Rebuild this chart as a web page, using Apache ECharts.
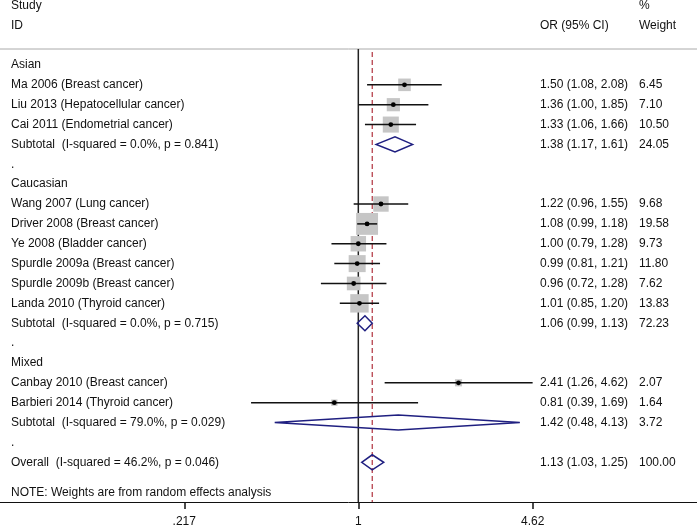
<!DOCTYPE html>
<html>
<head>
<meta charset="utf-8">
<script src="https://cdn.jsdelivr.net/npm/echarts@6/dist/echarts.min.js"></script>
<style>
  html, body { margin: 0; padding: 0; background: #fff; }
  #chart { width: 697px; height: 528px; }
</style>
</head>
<body>
<div id="chart"></div>
<script>
// rows of the forest plot, top to bottom
const rowLabels = [
  'Asian',
  'Ma 2006 (Breast cancer)',
  'Liu 2013 (Hepatocellular cancer)',
  'Cai 2011 (Endometrial cancer)',
  'Subtotal  (I-squared = 0.0%, p = 0.841)',
  '.',
  'Caucasian',
  'Wang 2007 (Lung cancer)',
  'Driver 2008 (Breast cancer)',
  'Ye 2008 (Bladder cancer)',
  'Spurdle 2009a (Breast cancer)',
  'Spurdle 2009b (Breast cancer)',
  'Landa 2010 (Thyroid cancer)',
  'Subtotal  (I-squared = 0.0%, p = 0.715)',
  '.',
  'Mixed',
  'Canbay 2010 (Breast cancer)',
  'Barbieri 2014 (Thyroid cancer)',
  'Subtotal  (I-squared = 79.0%, p = 0.029)',
  '.',
  'Overall  (I-squared = 46.2%, p = 0.046)'
];
const rowKinds = [
  'group', 'study', 'study', 'study', 'pooled', 'gap',
  'group', 'study', 'study', 'study', 'study', 'study', 'study', 'pooled', 'gap',
  'group', 'study', 'study', 'pooled', 'gap',
  'pooled'
];
const orValues = [null, 1.50, 1.36, 1.33, 1.38, null, null, 1.22, 1.08, 1.00, 0.99, 0.96, 1.01, 1.06, null, null, 2.41, 0.81, 1.42, null, 1.13];
const ciLower  = [null, 1.08, 1.00, 1.06, 1.17, null, null, 0.96, 0.99, 0.79, 0.81, 0.72, 0.85, 0.99, null, null, 1.26, 0.39, 0.48, null, 1.03];
const ciUpper  = [null, 2.08, 1.85, 1.66, 1.61, null, null, 1.55, 1.18, 1.28, 1.21, 1.28, 1.20, 1.13, null, null, 4.62, 1.69, 4.13, null, 1.25];
const weights  = [null, 6.45, 7.10, 10.50, 24.05, null, null, 9.68, 19.58, 9.73, 11.80, 7.62, 13.83, 72.23, null, null, 2.07, 1.64, 3.72, null, 100.00];
const tickValues = [0.217, 1, 4.62];
const tickLabels = ['.217', '1', '4.62'];
const overallOR = 1.13;

const FONT = '12px "Liberation Sans", Arial, sans-serif';
const TXT = '#111';
const NAVY = '#1f1f80';

const studyData = [], pooledData = [], textData = [];
rowLabels.forEach((lab, i) => {
  textData.push([1, i]);
  if (rowKinds[i] === 'study') studyData.push([orValues[i], i, ciLower[i], ciUpper[i], weights[i]]);
  if (rowKinds[i] === 'pooled') pooledData.push([orValues[i], i, ciLower[i], ciUpper[i], weights[i]]);
});

const chart = echarts.init(document.getElementById('chart'));

const option = {
  animation: false,
  backgroundColor: '#fff',
  grid: { left: 0, right: 0, top: 45.1, height: 457.7 },
  xAxis: {
    type: 'log',
    logBase: Math.E,
    position: 'bottom',
    min: 0.04303,
    max: 19.56,
    splitLine: { show: false },
    axisLine: { show: true, onZero: false, lineStyle: { color: '#111', width: 1 } },
    axisTick: { show: true, customValues: tickValues, length: 7, lineStyle: { color: '#111', width: 1.5 } },
    axisLabel: {
      show: true,
      customValues: tickValues,
      margin: 14,
      color: TXT,
      fontFamily: '"Liberation Sans", Arial, sans-serif',
      fontSize: 12,
      formatter: v => {
        const k = tickValues.findIndex(t => Math.abs(t - v) < 1e-6);
        return k >= 0 ? tickLabels[k] : '';
      }
    }
  },
  yAxis: {
    type: 'value',
    inverse: true,
    min: -1,
    max: 22,
    show: false
  },
  graphic: [
    { type: 'line', shape: { x1: 0, y1: 49, x2: 697, y2: 49 }, style: { stroke: '#aaa', lineWidth: 1 } },
    { type: 'text', x: 11, y: 6, style: { text: 'Study', font: FONT, fill: TXT, verticalAlign: 'middle' } },
    { type: 'text', x: 11, y: 26, style: { text: 'ID', font: FONT, fill: TXT, verticalAlign: 'middle' } },
    { type: 'text', x: 540, y: 26, style: { text: 'OR (95% CI)', font: FONT, fill: TXT, verticalAlign: 'middle' } },
    { type: 'text', x: 639, y: 6, style: { text: '%', font: FONT, fill: TXT, verticalAlign: 'middle' } },
    { type: 'text', x: 639, y: 26, style: { text: 'Weight', font: FONT, fill: TXT, verticalAlign: 'middle' } },
    { type: 'text', x: 11, y: 493, style: { text: 'NOTE: Weights are from random effects analysis', font: FONT, fill: TXT, verticalAlign: 'middle' } }
  ],
  series: [
    {
      // null line
      type: 'line',
      data: [[1, -0.8], [1, 22]],
      symbol: 'none',
      lineStyle: { color: '#222', width: 1.5 },
      z: 2
    },
    {
      // overall effect line
      type: 'line',
      data: [[overallOR, -0.65], [overallOR, 22]],
      symbol: 'none',
      lineStyle: { color: '#b0303c', width: 1.2, type: [5, 3] },
      z: 3
    },
    {
      type: 'custom',
      data: studyData,
      z: 4,
      renderItem: (params, api) => {
        const c = api.coord([api.value(0), api.value(1)]);
        const lo = api.coord([api.value(2), api.value(1)])[0];
        const hi = api.coord([api.value(3), api.value(1)])[0];
        const side = 4.95 * Math.sqrt(api.value(4));
        return {
          type: 'group',
          children: [
            { type: 'rect', shape: { x: c[0] - side / 2, y: c[1] - side / 2, width: side, height: side }, style: { fill: '#c6c6c6' } },
            { type: 'line', shape: { x1: lo, y1: c[1], x2: hi, y2: c[1] }, style: { stroke: '#111', lineWidth: 1.5 } },
            { type: 'circle', shape: { cx: c[0], cy: c[1], r: 2.4 }, style: { fill: '#000' } }
          ]
        };
      }
    },
    {
      type: 'custom',
      data: pooledData,
      z: 4,
      renderItem: (params, api) => {
        const c = api.coord([api.value(0), api.value(1)]);
        const lo = api.coord([api.value(2), api.value(1)])[0];
        const hi = api.coord([api.value(3), api.value(1)])[0];
        const h = 7.5;
        return {
          type: 'polygon',
          shape: { points: [[lo, c[1]], [c[0], c[1] - h], [hi, c[1]], [c[0], c[1] + h]] },
          style: { fill: 'rgba(255,255,255,0)', stroke: NAVY, lineWidth: 1.5 }
        };
      }
    },
    {
      type: 'custom',
      data: textData,
      z: 5,
      renderItem: (params, api) => {
        const i = params.dataIndex;
        const y = api.coord([1, api.value(1)])[1];
        const children = [
          { type: 'text', x: 11, y: y, style: { text: rowLabels[i], font: FONT, fill: TXT, verticalAlign: 'middle' } }
        ];
        if (orValues[i] != null) {
          children.push({ type: 'text', x: 540, y: y, style: {
            text: orValues[i].toFixed(2) + ' (' + ciLower[i].toFixed(2) + ', ' + ciUpper[i].toFixed(2) + ')',
            font: FONT, fill: TXT, verticalAlign: 'middle' } });
          children.push({ type: 'text', x: 639, y: y, style: { text: weights[i].toFixed(2), font: FONT, fill: TXT, verticalAlign: 'middle' } });
        }
        return { type: 'group', children: children };
      }
    }
  ]
};

chart.setOption(option);
window.addEventListener('resize', () => chart.resize());
</script>
</body>
</html>
